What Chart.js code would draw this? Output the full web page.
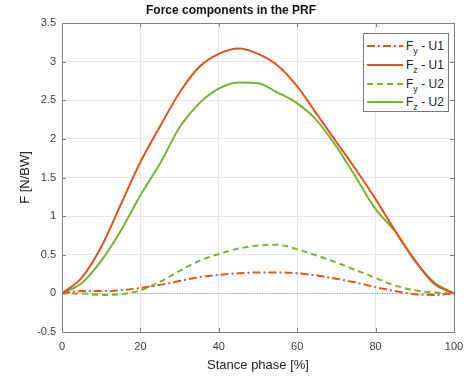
<!DOCTYPE html>
<html>
<head>
<meta charset="utf-8">
<script src="https://cdn.jsdelivr.net/npm/chart.js@4.4.1/dist/chart.umd.min.js"></script>
<style>
  body { margin: 0; background: #fff; }
  .wrap { position: relative; width: 475px; height: 377px; }
  .legend {
    position: absolute; left: 363px; top: 33px; width: 86px; height: 79px;
    border: 1px solid #7a7a7a; background: #fff;
    font-family: "Liberation Sans", Arial, sans-serif; font-size: 12px; color: #222;
    padding-top: 3px; box-sizing: border-box;
  }
  .legend .row { display: flex; align-items: center; height: 18.7px; }
  .legend svg { margin-left: 3px; margin-right: 3px; }
  .legend sub { font-size: 9px; vertical-align: -4px; line-height: 0; }
</style>
</head>
<body>
<div class="wrap">
  <canvas id="grafico" width="475" height="377"></canvas>
  <div class="legend" id="legenda"></div>
</div>
<script>
const stance = [0, 5, 10, 15, 20, 25, 30, 35, 40, 45, 50, 55, 60, 65, 70, 75, 80, 85, 90, 95, 100];

const fyU1 = [0, 0.03, 0.03, 0.04, 0.07, 0.11, 0.16, 0.21, 0.24, 0.26, 0.27, 0.27, 0.26, 0.23, 0.19, 0.14, 0.08, 0.03, -0.01, -0.02, 0];
const fzU1 = [0, 0.2, 0.6, 1.15, 1.7, 2.16, 2.6, 2.93, 3.1, 3.17, 3.1, 2.95, 2.68, 2.32, 1.96, 1.6, 1.22, 0.81, 0.43, 0.12, 0];
const fyU2 = [0, 0.0, -0.02, -0.01, 0.04, 0.15, 0.29, 0.42, 0.51, 0.58, 0.62, 0.63, 0.57, 0.49, 0.4, 0.3, 0.2, 0.1, 0.04, 0.01, 0];
const fzU2 = [0, 0.13, 0.42, 0.81, 1.27, 1.68, 2.15, 2.46, 2.65, 2.73, 2.72, 2.6, 2.46, 2.24, 1.9, 1.5, 1.09, 0.8, 0.42, 0.14, 0];

const components = ["y", "z", "y", "z"];
const units = ["U1", "U1", "U2", "U2"];
const xTicks = [0, 20, 40, 60, 80, 100];

const orange = "#E2531D";
const green = "#78B232";
const fontFamily = "'Liberation Sans', Arial, sans-serif";

const series = [
  { data: fyU1, color: orange, dash: [8, 3, 2, 3] },
  { data: fzU1, color: orange, dash: [] },
  { data: fyU2, color: green, dash: [6, 4] },
  { data: fzU2, color: green, dash: [] },
];

const datasets = series.map((s, i) => ({
  label: "F" + components[i] + " - " + units[i],
  data: stance.map((x, j) => ({ x: x, y: s.data[j] })),
  borderColor: s.color,
  borderDash: s.dash,
  borderWidth: 2,
  pointRadius: 0,
  cubicInterpolationMode: "monotone",
  fill: false,
}));

// linha pontilhada em zero
datasets.unshift({
  label: "zero",
  data: [{ x: 0, y: 0 }, { x: 100, y: 0 }],
  borderColor: "#9a9a9a",
  borderDash: [1, 1.5],
  borderWidth: 1,
  pointRadius: 0,
});

const framePlugin = {
  id: "frame",
  afterDraw(chart) {
    const { ctx, chartArea: a, scales } = chart;
    ctx.save();
    ctx.strokeStyle = "#808080";
    ctx.lineWidth = 1;
    ctx.setLineDash([]);
    ctx.strokeRect(a.left + 0.5, a.top + 0.5, a.right - a.left, a.bottom - a.top);
    ctx.beginPath();
    scales.y.ticks.forEach((t) => {
      const py = Math.round(scales.y.getPixelForValue(t.value)) + 0.5;
      ctx.moveTo(a.left, py); ctx.lineTo(a.left + 4, py);
      ctx.moveTo(a.right, py); ctx.lineTo(a.right - 4, py);
    });
    scales.x.ticks.forEach((t) => {
      const px = Math.round(scales.x.getPixelForValue(t.value)) + 0.5;
      ctx.moveTo(px, a.bottom); ctx.lineTo(px, a.bottom - 4);
      ctx.moveTo(px, a.top); ctx.lineTo(px, a.top + 4);
    });
    ctx.stroke();
    ctx.restore();
  },
};

new Chart(document.getElementById("grafico"), {
  type: "line",
  data: { datasets: datasets },
  options: {
    responsive: false,
    animation: false,
    layout: { padding: { left: 8, right: 21, top: 0, bottom: 4 } },
    plugins: {
      legend: { display: false },
      tooltip: { enabled: false },
      title: {
        display: true,
        text: "Force components in the PRF",
        color: "#111",
        font: { family: fontFamily, size: 12, weight: "bold" },
        padding: { top: 3, bottom: 5.6 },
      },
    },
    scales: {
      x: {
        type: "linear",
        min: 0,
        max: 100,
        afterBuildTicks: (scale) => { scale.ticks = xTicks.map((v) => ({ value: v })); },
        afterFit: (scale) => { scale.height = 41; scale.paddingLeft = 0; scale.paddingRight = 0; },
        ticks: { color: "#3a3a3a", font: { family: fontFamily, size: 11 }, padding: 8, maxRotation: 0 },
        grid: { color: "#e6e6e6", drawTicks: false },
        border: { display: false },
        title: {
          display: true,
          text: "Stance phase [%]",
          color: "#222",
          font: { family: fontFamily, size: 13 },
          padding: { top: 3, bottom: 0 },
        },
      },
      y: {
        min: -0.5,
        max: 3.5,
        ticks: {
          stepSize: 0.5,
          color: "#3a3a3a",
          font: { family: fontFamily, size: 11 },
          padding: 6,
          callback: (v) => String(v),
        },
        afterFit: (scale) => { scale.width = 54; scale.paddingTop = 0; scale.paddingBottom = 0; },
        grid: { color: "#e6e6e6", drawTicks: false },
        border: { display: false },
        title: {
          display: true,
          text: "F [N/BW]",
          color: "#222",
          font: { family: fontFamily, size: 13 },
          padding: { top: 10, bottom: 0 },
        },
      },
    },
  },
  plugins: [framePlugin],
});

// legenda com subscritos
const legenda = document.getElementById("legenda");
series.forEach((s, i) => {
  const row = document.createElement("div");
  row.className = "row";
  row.innerHTML =
    '<svg width="36" height="4"><line x1="0" y1="2" x2="36" y2="2" stroke="' + s.color +
    '" stroke-width="2" stroke-dasharray="' + (s.dash.length ? s.dash.join(" ") : "none") + '"/></svg>' +
    "<span>F<sub>" + components[i] + "</sub> - " + units[i] + "</span>";
  legenda.appendChild(row);
});
</script>
</body>
</html>
